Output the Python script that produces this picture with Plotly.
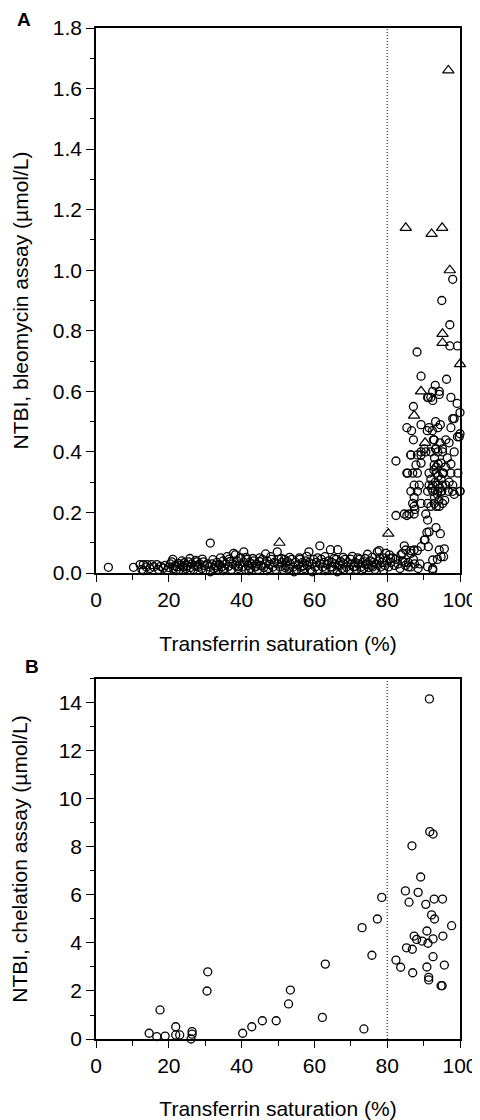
import plotly.graph_objects as go

# ---------------- Panel A: bleomycin assay ----------------
# circles, low-saturation band (x = transferrin saturation %, y = NTBI umol/L)
a_low_x = [3.4, 10.3, 12.1, 12.6, 13.0, 13.0, 13.8, 14.0, 14.8, 15.3, 15.9, 16.7, 17.2, 17.8, 18.5, 19.0, 19.6, 20.0,
           20.4, 20.8, 21.3, 21.7, 22.2, 22.6, 23.0, 23.4, 23.9, 24.3, 24.7, 25.1, 25.4, 25.9, 26.3, 26.8, 27.2, 27.7,
           28.1, 28.5, 29.0, 29.5, 29.8, 30.2, 30.6,
           31.0, 31.4, 31.4, 31.9, 32.3, 32.8, 33.2, 33.6, 34.0, 34.5, 34.9, 35.3, 35.7, 36.0, 36.4, 36.8, 37.2, 37.6,
           37.8, 38.3, 38.3, 38.7, 39.1, 39.5, 39.8, 40.2, 40.6,
           40.6, 41.0, 41.4, 41.8, 42.2, 42.5, 42.9, 43.3, 43.7, 44.1, 44.5, 44.9, 45.3, 45.7, 46.1, 46.6, 46.6, 47.0,
           47.4, 47.8, 48.2, 48.6, 49.0, 49.4, 49.8, 49.8, 50.2,
           50.6, 51.0, 51.4, 51.8, 52.2, 52.6, 53.0, 53.4, 53.8, 54.2, 54.4, 54.8, 55.2, 55.6, 56.0, 56.4, 56.8, 57.2,
           57.6, 58.0, 58.5, 58.5, 58.9, 59.4, 59.4, 59.8, 60.2,
           60.6, 61.0, 61.5, 61.5, 61.9, 62.3, 62.7, 63.1, 63.5, 63.9, 64.4, 64.4, 64.8, 65.2, 65.6, 66.0, 66.3, 66.4,
           66.8, 67.2, 67.6, 68.0, 68.4, 68.8, 69.2, 69.6, 70.0,
           70.4, 70.8, 71.2, 71.6, 72.0, 72.4, 72.8, 73.2, 73.6, 74.0, 74.6, 74.6, 75.0, 75.4, 75.8, 76.2, 76.6, 77.0,
           77.3, 77.8, 77.8, 78.2, 78.6, 79.0, 79.4, 79.6, 80.0, 80.4, 80.6, 81.0, 81.5, 82.0, 82.4, 83.0, 83.5, 84.2,
           85.0, 85.8, 86.5, 87.5, 88.5,
           # second and third layers in the dense band
           22.0, 24.0, 26.0, 28.0, 33.0, 35.0, 39.0, 42.0, 44.0, 47.0, 52.0, 55.0, 57.0, 63.0, 65.0, 68.0, 71.0, 73.0,
           76.0, 79.0,
           21.1, 23.6, 25.8, 27.4, 29.2, 32.1, 34.2, 36.6, 41.2, 43.1, 45.0, 48.0, 50.9, 53.2, 55.9, 57.9, 60.9, 62.9,
           65.4, 67.9, 69.9, 71.9, 73.9, 75.9, 78.0, 80.9]
a_low_y = [0.019, 0.019, 0.028, 0.012, 0.028, 0.008, 0.020, 0.028, 0.015, 0.028, 0.020, 0.028, 0.012, 0.022, 0.016, 0.025, 0.010, 0.018,
           0.030, 0.037, 0.015, 0.025, 0.020, 0.032, 0.012, 0.027, 0.020, 0.034, 0.015, 0.025, 0.037, 0.018, 0.030, 0.012, 0.024, 0.037,
           0.020, 0.030, 0.015, 0.037, 0.025, 0.010, 0.030,
           0.020, 0.004, 0.099, 0.030, 0.015, 0.025, 0.035, 0.012, 0.028, 0.020, 0.040, 0.015, 0.030, 0.054, 0.022, 0.038, 0.012, 0.030,
           0.065, 0.060, 0.025, 0.040, 0.015, 0.030, 0.050, 0.020, 0.070,
           0.035, 0.012, 0.045, 0.025, 0.035, 0.015, 0.030, 0.040, 0.020, 0.030, 0.012, 0.038, 0.025, 0.045, 0.018, 0.063, 0.030, 0.040,
           0.015, 0.028, 0.045, 0.020, 0.035, 0.012, 0.070, 0.030, 0.045,
           0.020, 0.035, 0.012, 0.045, 0.025, 0.038, 0.015, 0.030, 0.045, 0.020, 0.004, 0.035, 0.012, 0.028, 0.045, 0.020, 0.035, 0.015,
           0.040, 0.025, 0.070, 0.035, 0.012, 0.004, 0.030, 0.045, 0.020,
           0.035, 0.012, 0.090, 0.030, 0.045, 0.020, 0.035, 0.015, 0.028, 0.040, 0.077, 0.020, 0.035, 0.012, 0.030, 0.045, 0.004, 0.077,
           0.025, 0.038, 0.015, 0.030, 0.045, 0.020, 0.035, 0.012, 0.028,
           0.055, 0.020, 0.035, 0.012, 0.030, 0.045, 0.020, 0.035, 0.015, 0.028, 0.062, 0.030, 0.018, 0.040, 0.025, 0.035, 0.012, 0.030,
           0.070, 0.074, 0.040, 0.020, 0.035, 0.050, 0.025, 0.065, 0.040, 0.020, 0.060, 0.035, 0.050, 0.025, 0.045, 0.030, 0.015, 0.040,
           0.025, 0.035, 0.020, 0.030, 0.015,
           0.008, 0.022, 0.010, 0.026, 0.018, 0.008, 0.022, 0.008, 0.022, 0.008, 0.018, 0.008, 0.024, 0.008, 0.020, 0.010, 0.022, 0.008,
           0.020, 0.010,
           0.045, 0.040, 0.048, 0.042, 0.046, 0.044, 0.050, 0.046, 0.052, 0.048, 0.050, 0.054, 0.048, 0.052, 0.050, 0.055, 0.050, 0.054,
           0.048, 0.052, 0.046, 0.050, 0.048, 0.052, 0.050, 0.048]

# circles, high-saturation cluster
a_high_x = [98.0, 95.0, 97.2, 97.2, 99.3, 88.2, 89.3, 96.3, 93.2, 94.3, 91.3, 92.5, 97.5, 99.2, 87.2, 100.0,
            85.4, 86.7, 87.2, 89.3, 91.0, 92.4, 93.3, 98.0, 98.4, 97.5, 100.0, 99.3, 97.0, 98.4, 82.4, 85.4,
            82.4, 85.4, 98.4, 100.0,
            92.5, 94.3, 92.0, 91.1, 91.5, 93.9, 94.6, 92.9, 96.1, 99.8, 93.4, 95.2, 90.2, 86.5, 88.3, 89.3,
            86.5, 89.3, 90.6, 92.0, 93.9, 95.2, 87.9, 89.3, 92.9, 94.8, 97.5,
            85.6, 87.0, 88.3, 91.5, 93.4, 95.2, 97.5, 99.4,
            87.4, 88.8, 91.5, 92.5, 93.9, 95.2, 96.1, 98.0,
            86.5, 88.3, 91.1, 92.5, 93.9, 94.8, 98.0, 100.0,
            87.0, 87.4, 89.3, 91.1, 92.0, 92.9, 94.3, 95.2,
            84.7, 86.0, 87.4, 90.6, 87.6, 87.4,
            93.0, 93.5, 94.0, 93.2, 94.5, 93.8, 94.2, 93.5, 92.8, 94.8, 92.2, 93.0, 94.0, 95.0, 95.5, 92.0,
            93.3, 94.5, 92.7, 96.5, 96.0, 97.0, 96.8, 95.8,
            91.1, 90.9, 93.4, 94.6, 90.4, 91.3, 84.7, 86.5, 88.3, 87.2, 95.7, 95.5, 93.8, 92.5,
            91.5, 90.2, 89.3, 87.4, 85.1, 84.2, 86.5, 94.3, 94.8, 92.5, 91.1, 92.5, 83.8, 84.8, 85.8, 89.0]
a_high_y = [0.97, 0.90, 0.82, 0.75, 0.75, 0.73, 0.65, 0.64, 0.62, 0.59, 0.58, 0.57, 0.58, 0.56, 0.55, 0.53,
            0.48, 0.47, 0.44, 0.49, 0.47, 0.47, 0.50, 0.51, 0.51, 0.48, 0.46, 0.45, 0.43, 0.40, 0.37, 0.33,
            0.19, 0.19, 0.26, 0.27,
            0.60, 0.60, 0.58, 0.58, 0.48, 0.48, 0.49, 0.44, 0.44, 0.45, 0.41, 0.41, 0.41, 0.39, 0.39, 0.39,
            0.39, 0.40, 0.40, 0.40, 0.40, 0.40, 0.357, 0.363, 0.357, 0.363, 0.36,
            0.33, 0.33, 0.33, 0.33, 0.33, 0.33, 0.33, 0.33,
            0.29, 0.29, 0.29, 0.29, 0.29, 0.29, 0.29, 0.29,
            0.27, 0.27, 0.27, 0.27, 0.27, 0.27, 0.27, 0.27,
            0.23, 0.22, 0.23, 0.23, 0.22, 0.23, 0.22, 0.23,
            0.195, 0.195, 0.195, 0.195, 0.21, 0.25,
            0.38, 0.35, 0.32, 0.30, 0.28, 0.26, 0.24, 0.22, 0.34, 0.31, 0.28, 0.25, 0.36, 0.27, 0.33, 0.31,
            0.41, 0.43, 0.44, 0.38, 0.35, 0.30, 0.27, 0.24,
            0.175, 0.134, 0.15, 0.13, 0.11, 0.087, 0.09, 0.074, 0.074, 0.045, 0.08, 0.054, 0.045, 0.01,
            0.136, 0.109, 0.087, 0.076, 0.076, 0.065, 0.065, 0.076, 0.054, 0.043, 0.021, 0.015, 0.06, 0.035, 0.02, 0.03]

# triangles
a_tri_x = [96.8, 85.1, 92.2, 95.1, 97.2, 95.2, 95.2, 100.0, 89.3, 87.4, 90.4, 80.3, 50.4]
a_tri_y = [1.66, 1.14, 1.12, 1.14, 1.00, 0.79, 0.76, 0.69, 0.60, 0.52, 0.43, 0.13, 0.10]

# ---------------- Panel B: chelation assay ----------------
b_x = [14.6, 16.7, 19.0, 17.6, 21.9, 21.9, 23.0, 26.4, 26.4, 26.1, 30.7, 30.5, 40.3, 42.8, 45.7, 49.5,
       52.9, 53.4, 62.2, 63.0, 73.1, 73.6, 75.8, 77.3, 78.5, 82.4, 83.7, 85.0, 85.3, 86.0, 86.9, 87.0,
       87.4, 88.1, 88.5, 89.6, 90.6, 90.9, 91.2, 90.9, 91.4, 91.4, 92.2, 92.9, 93.0, 92.6, 92.6, 95.2,
       95.3, 95.7, 94.8, 95.1, 97.7, 91.6, 91.7, 92.6, 86.8, 89.2]
b_y = [0.24, 0.10, 0.12, 1.21, 0.51, 0.17, 0.17, 0.31, 0.20, 0.00, 2.80, 2.00, 0.24, 0.51, 0.76, 0.76,
       1.46, 2.04, 0.90, 3.12, 4.64, 0.42, 3.49, 5.00, 5.90, 3.29, 2.99, 6.17, 3.80, 5.70, 3.74, 2.76,
       4.29, 4.15, 6.11, 4.08, 5.61, 4.50, 3.99, 3.00, 2.57, 2.46, 5.17, 5.83, 5.00, 4.17, 3.43, 5.83,
       4.29, 3.08, 2.22, 2.22, 4.72, 14.17, 8.64, 8.54, 8.05, 6.75]

x_ticks = [0, 20, 40, 60, 80, 100]
a_y_ticks = [0.0, 0.2, 0.4, 0.6, 0.8, 1.0, 1.2, 1.4, 1.6, 1.8]
b_y_ticks = [0, 2, 4, 6, 8, 10, 12, 14]
cutoff = 80

FONT = "Liberation Sans, Arial, sans-serif"
circle = dict(symbol="circle-open", size=8, color="black", line=dict(width=1.3, color="black"))
tri = dict(symbol="triangle-up-open", size=10, color="black", line=dict(width=1.2, color="black"))

fig = go.Figure()
fig.add_trace(go.Scatter(x=a_low_x, y=a_low_y, mode="markers", marker=circle, cliponaxis=False,
                         xaxis="x", yaxis="y", showlegend=False))
fig.add_trace(go.Scatter(x=a_high_x, y=a_high_y, mode="markers", marker=circle, cliponaxis=False,
                         xaxis="x", yaxis="y", showlegend=False))
fig.add_trace(go.Scatter(x=a_tri_x, y=a_tri_y, mode="markers", marker=tri, cliponaxis=False,
                         xaxis="x", yaxis="y", showlegend=False))
fig.add_trace(go.Scatter(x=b_x, y=b_y, mode="markers", marker=circle, cliponaxis=False,
                         xaxis="x2", yaxis="y2", showlegend=False))

TICKFONT = dict(size=21, color="black", family=FONT)
common_x = dict(range=[0, 100], tickvals=x_ticks, ticks="outside", ticklen=7, tickwidth=1.3,
                minor=dict(dtick=10, ticks="outside", ticklen=5, tickwidth=1, tickcolor="black"),
                showline=True, linewidth=1.6, linecolor="black", mirror=True, automargin=False,
                showgrid=False, zeroline=False, tickcolor="black", tickfont=TICKFONT)
common_y = dict(ticks="outside", ticklen=8, tickwidth=1.3, tickcolor="black",
                showline=True, linewidth=1.6, linecolor="black", mirror=True, automargin=False,
                showgrid=False, zeroline=False, tickfont=TICKFONT)

# the page adds an 8px body margin, so the figure is 472x1112 and margins are offset by 8px
fig.update_layout(
    width=472, height=1112,
    margin=dict(l=88, r=20, t=20, b=81),
    paper_bgcolor="white", plot_bgcolor="white",
    font=dict(family=FONT, color="black"),
    xaxis=dict(domain=[0, 1], anchor="y", **common_x,
               title=dict(text="Transferrin saturation (%)", font=dict(size=21), standoff=26)),
    yaxis=dict(domain=[0.4609, 1], anchor="x", range=[0, 1.8], tickvals=a_y_ticks, tickformat=".1f",
               minor=dict(dtick=0.1, ticks="outside", ticklen=4, tickwidth=1, tickcolor="black"),
               **common_y,
               title=dict(text="NTBI, bleomycin assay (µmol/L)", font=dict(size=21), standoff=18)),
    xaxis2=dict(domain=[0, 1], anchor="y2", **common_x,
                title=dict(text="Transferrin saturation (%)", font=dict(size=21), standoff=28)),
    yaxis2=dict(domain=[0, 0.3561], anchor="x2", range=[0, 15], tickvals=b_y_ticks,
                minor=dict(dtick=1, ticks="outside", ticklen=4, tickwidth=1, tickcolor="black"),
                **common_y,
                title=dict(text="NTBI, chelation assay (µmol/L)", font=dict(size=21), standoff=26)),
    shapes=[
        dict(type="line", xref="x", yref="y", x0=cutoff, x1=cutoff, y0=0, y1=1.8,
             line=dict(color="black", width=1, dash="1px,2px")),
        dict(type="line", xref="x2", yref="y2", x0=cutoff, x1=cutoff, y0=0, y1=15,
             line=dict(color="black", width=1, dash="1px,2px")),
    ],
    annotations=[
        dict(text="<b>A</b>", xref="paper", yref="paper", x=-0.198, y=1.008, xanchor="center", yanchor="middle",
             showarrow=False, font=dict(size=19, color="black", family=FONT)),
        dict(text="<b>B</b>", xref="paper", yref="paper", x=-0.176, y=0.368, xanchor="center", yanchor="middle",
             showarrow=False, font=dict(size=19, color="black", family=FONT)),
    ],
)

fig.write_html("out.html")
